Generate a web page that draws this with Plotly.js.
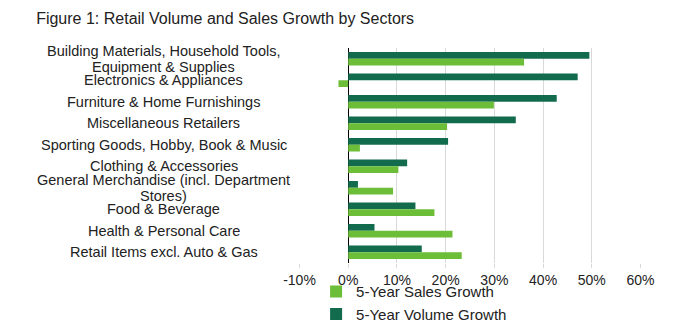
<!DOCTYPE html>
<html>
<head>
<meta charset="utf-8">
<script src="https://cdn.plot.ly/plotly-3.0.1.min.js"></script>
<style>html,body{margin:0;padding:0;background:#fff;}#chart{width:682px;height:326px;}</style>
</head>
<body>
<div id="chart"></div>
<script>
const categories = [
  "Building Materials, Household Tools, Equipment & Supplies",
  "Electronics & Appliances",
  "Furniture & Home Furnishings",
  "Miscellaneous Retailers",
  "Sporting Goods, Hobby, Book & Music",
  "Clothing & Accessories",
  "General Merchandise (incl. Department Stores)",
  "Food & Beverage",
  "Health & Personal Care",
  "Retail Items excl. Auto & Gas"
];
const categoryLabelLines = [
  ["Building Materials, Household Tools,", "Equipment & Supplies"],
  ["Electronics & Appliances"],
  ["Furniture & Home Furnishings"],
  ["Miscellaneous Retailers"],
  ["Sporting Goods, Hobby, Book & Music"],
  ["Clothing & Accessories"],
  ["General Merchandise (incl. Department", "Stores)"],
  ["Food & Beverage"],
  ["Health & Personal Care"],
  ["Retail Items excl. Auto & Gas"]
];
const volumeGrowth = [49.5, 47.1, 42.8, 34.4, 20.5, 12.1, 2.0, 13.8, 5.4, 15.1];
const salesGrowth  = [36.1, -2.0, 29.9, 20.3, 2.4, 10.3, 9.2, 17.7, 21.4, 23.3];
const xTickVals = [-10, 0, 10, 20, 30, 40, 50, 60];
const xTickText = ["-10%", "0%", "10%", "20%", "30%", "40%", "50%", "60%"];

const FONT = "Liberation Sans, Arial, sans-serif";

const traces = [
  {type: "bar", orientation: "h", name: "5-Year Volume Growth", x: volumeGrowth, y: categories,
   marker: {color: "#136b4d"}, hoverinfo: "x+y"},
  {type: "bar", orientation: "h", name: "5-Year Sales Growth", x: salesGrowth, y: categories,
   marker: {color: "#6cbd38"}, hoverinfo: "x+y"}
];

const LINE_GAP = 16.5;
const annotations = [];
categories.forEach((c, i) => {
  const lines = categoryLabelLines[i];
  lines.forEach((ln, k) => {
    annotations.push({
      xref: "paper", yref: "y", x: -0.395, y: c, text: ln,
      yshift: ((lines.length - 1) / 2 - k) * LINE_GAP,
      showarrow: false, xanchor: "center", yanchor: "middle", align: "center",
      font: {family: FONT, size: 14.5, color: "#222"}
    });
  });
});

const layout = {
  width: 682, height: 326,
  margin: {l: 299, r: 41, t: 48, b: 63, autoexpand: false},
  paper_bgcolor: "#fff", plot_bgcolor: "#fff",
  font: {family: FONT, color: "#222"},
  title: {text: "Figure 1: Retail Volume and Sales Growth by Sectors",
          font: {family: FONT, size: 16, color: "#222"},
          xref: "container", yref: "container", x: 0.053, xanchor: "left", y: 0.945, yanchor: "middle"},
  barmode: "group", bargap: 0.37, bargroupgap: 0,
  xaxis: {range: [-10.1, 60.1], autorange: false, tickvals: xTickVals, ticktext: xTickText,
          showgrid: true, gridcolor: "#d9d9d9", gridwidth: 1,
          zeroline: true, zerolinecolor: "#000", zerolinewidth: 1,
          showline: false, ticks: "outside", ticklen: 4, tickcolor: "#d9d9d9", ticklabelstandoff: 0,
          tickfont: {family: FONT, size: 14, color: "#222"}, fixedrange: true,
          automargin: false},
  yaxis: {type: "category", categoryorder: "array", categoryarray: categories,
          range: [categories.length - 0.5, -0.5], autorange: false,
          showticklabels: false, showgrid: false,
          showline: false, ticks: "", zeroline: false, fixedrange: true, automargin: false},
  showlegend: true,
  legend: {traceorder: "reversed", orientation: "v",
           x: 0.05, xanchor: "left", y: -0.057, yanchor: "top",
           font: {family: FONT, size: 15, color: "#222"}, bgcolor: "rgba(0,0,0,0)", tracegroupgap: 0},
  annotations: annotations
};

Plotly.newPlot("chart", traces, layout, {displayModeBar: false, staticPlot: true});
</script>
</body>
</html>
